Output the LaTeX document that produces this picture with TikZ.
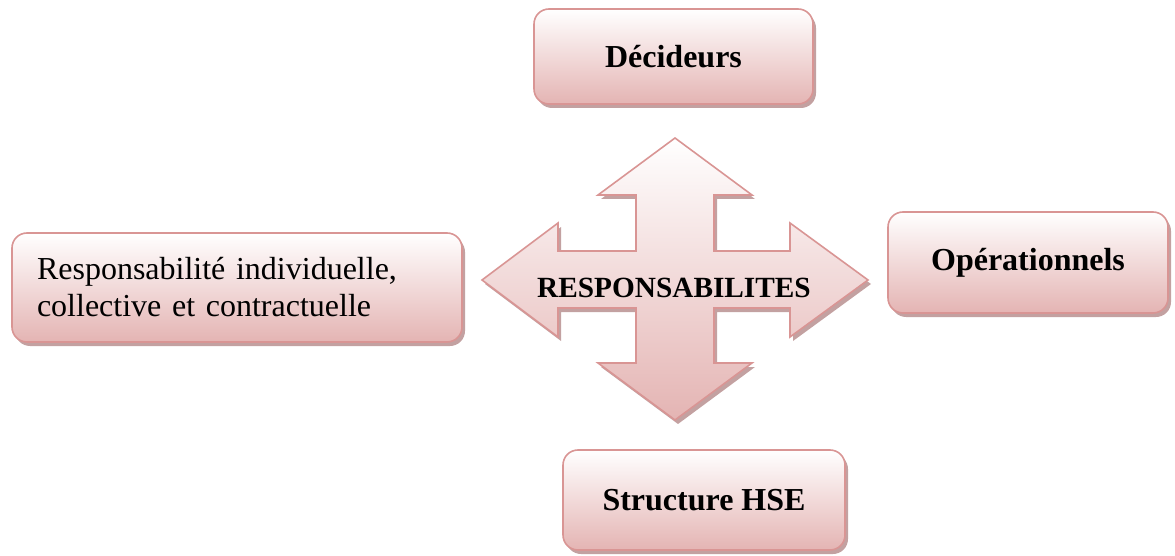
\documentclass[tikz,border=0pt]{standalone}
\usepackage{fontspec}
\setmainfont{Liberation Serif}
\usetikzlibrary{shadows}
\definecolor{edgepink}{RGB}{217,149,148}
\definecolor{fillpink}{RGB}{228,180,179}
\definecolor{shadowpink}{RGB}{175,130,130}
\tikzset{
  softshadow/.style={drop shadow={shadow xshift=3pt, shadow yshift=-4pt, fill=shadowpink, opacity=0.75}},
  pinkbox/.style={draw=edgepink, line width=1.6pt, rounded corners=15pt,
    top color=white, bottom color=fillpink, softshadow, inner sep=0pt,
    font=\fontsize{32}{36}\selectfont\bfseries},
  bigarrow/.style={draw=edgepink, line width=1.6pt, line join=miter,
    top color=white, bottom color=fillpink, softshadow},
}
\begin{document}
\begin{tikzpicture}[x=1pt,y=-1pt]
\useasboundingbox (0,0) rectangle (1175,556);
\node[pinkbox, minimum width=279pt, minimum height=95pt] (dec) at (673.5,56.5) {Décideurs};
\node[pinkbox, minimum width=280pt, minimum height=101pt] (ope) at (1028,262.5) {Opérationnels};
\node[pinkbox, minimum width=282pt, minimum height=100pt] (hse) at (704,500) {Structure HSE};
\node[pinkbox, minimum width=450pt, minimum height=109pt, align=left, text width=400pt,
      inner xsep=25pt, font=\fontsize{32}{37}\selectfont\raggedright] (resp) at (237,287.5)
  {Responsabilité individuelle,\\collective et contractuelle};
\draw[bigarrow] (675,138) -- (752,195) -- (714,195) -- (714,251) -- (790,251) -- (790,223)
  -- (868,280) -- (790,337) -- (790,308) -- (714,308) -- (714,363) -- (752,363)
  -- (675,420) -- (598,363) -- (636,363) -- (636,308) -- (558,308) -- (558,337)
  -- (482,280) -- (558,223) -- (558,251) -- (636,251) -- (636,195) -- (598,195) -- cycle;
\node[font=\fontsize{29.3}{34}\selectfont\bfseries] (center) at (674,288) {RESPONSABILITES};
\end{tikzpicture}
\end{document}
